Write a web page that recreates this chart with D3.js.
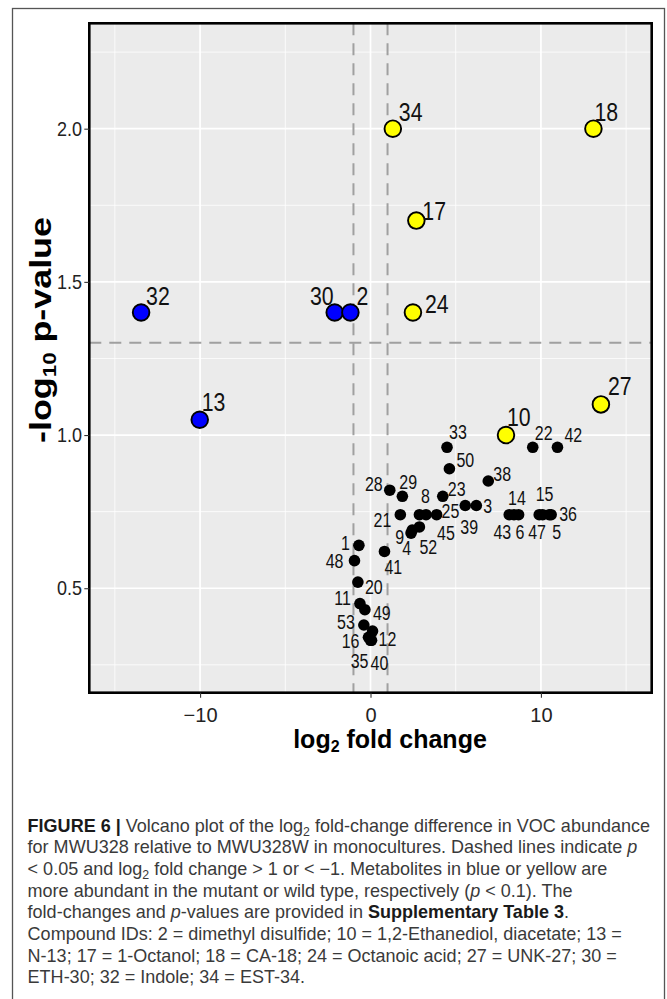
<!DOCTYPE html>
<html>
<head>
<meta charset="utf-8">
<script src="https://cdn.jsdelivr.net/npm/d3@7"></script>
<style>
body{margin:0;background:#fff;}
text{font-family:"Liberation Sans",Arial,Helvetica,sans-serif;}
</style>
</head>
<body>
<div id="plot"></div>
<script>
/* data */
var ids        = [32, 13, 30, 2, 34, 17, 24, 18, 27, 10,
                  33, 50, 38, 28, 29, 23, 21, 8, 45, 25, 39, 3, 9, 4, 52,
                  1, 48, 41, 20, 11, 49, 53, 12, 16, 35, 40,
                  22, 42, 43, 14, 6, 47, 15, 5, 36];
var foldChange = [-13.46, -10.02, -2.10, -1.18, 1.31, 2.69, 2.49, 13.08, 13.52, 7.95,
                  4.49, 4.63, 6.91, 1.13, 1.87, 4.24, 1.75, 2.87, 3.26, 3.88, 5.56, 6.21, 2.38, 2.45, 2.87,
                  -0.68, -0.94, 0.82, -0.74, -0.62, -0.33, -0.39, 0.12, -0.12, 0.0, 0.06,
                  9.52, 10.97, 8.14, 8.42, 8.69, 9.90, 10.10, 10.49, 10.60];
var negLogP    = [1.40, 1.05, 1.40, 1.40, 2.00, 1.70, 1.40, 2.00, 1.10, 1.00,
                  0.96, 0.89, 0.85, 0.82, 0.80, 0.80, 0.74, 0.74, 0.74, 0.74, 0.77, 0.77, 0.68, 0.69, 0.70,
                  0.64, 0.59, 0.62, 0.52, 0.45, 0.43, 0.38, 0.36, 0.34, 0.33, 0.33,
                  0.96, 0.96, 0.74, 0.74, 0.74, 0.74, 0.74, 0.74, 0.74];
var groups     = ['mutant','mutant','mutant','mutant','wild','wild','wild','wild','wild','wild',
                  'ns','ns','ns','ns','ns','ns','ns','ns','ns','ns','ns','ns','ns','ns','ns',
                  'ns','ns','ns','ns','ns','ns','ns','ns','ns','ns','ns',
                  'ns','ns','ns','ns','ns','ns','ns','ns','ns'];

var xTicks = [-10, 0, 10];
var xMinor = [-15, -5, 5, 15];
var yTicks = [0.5, 1.0, 1.5, 2.0];
var yMinor = [0.25, 0.75, 1.25, 1.75, 2.25];
var fcCutoffs = [-1, 1];
var pCutoff = -Math.log10(0.05);

var colors = {mutant:'#0000ff', wild:'#ffff00', ns:'#000000'};

// label nudges in px from the point (dx, dy, anchor)
var nudge = {
  34:[6,-8], 18:[1,-8], 17:[6,-1], 24:[12,0], 32:[5,-8], 30:[-1,-8,'end'], 2:[6,-8],
  13:[2,-9], 27:[7,-9], 10:[1,-9],
  33:[2,-8], 50:[7,-2], 38:[5,0], 28:[-7,1,'end'], 29:[-3,-7], 23:[5,0], 8:[1.5,-12],
  21:[-9,12,'end'], 25:[5,3], 45:[11,25], 39:[-5,28], 3:[7,7], 9:[-7,11,'end'], 4:[-10,25],
  52:[0,27], 1:[-9,5,'end'], 48:[-11,7,'end'], 41:[0,23], 20:[7,12], 11:[-9,1,'end'],
  49:[8,10], 53:[-9,4,'end'], 16:[-9,11,'end'], 12:[6,15], 35:[-2,28,'end'], 40:[-1,30],
  22:[2,-7], 42:[7,-5], 14:[-6,-10], 43:[2,24,'end'], 6:[-3,24], 15:[-7,-14], 47:[-11,24],
  5:[3,24], 36:[8,6]
};

var captionLines = [
  [["FIGURE 6 | ","b"],["Volcano plot of the log",""],["2","sub"],[" fold-change difference in VOC abundance",""]],
  [["for MWU328 relative to MWU328W in monocultures. Dashed lines indicate ",""],["p","i"]],
  [["< 0.05 and log",""],["2","sub"],[" fold change > 1 or < \u22121. Metabolites in blue or yellow are",""]],
  [["more abundant in the mutant or wild type, respectively (",""],["p","i"],[" < 0.1). The",""]],
  [["fold-changes and ",""],["p","i"],["-values are provided in ",""],["Supplementary Table 3","b"],[".",""]],
  [["Compound IDs: 2 = dimethyl disulfide; 10 = 1,2-Ethanediol, diacetate; 13 =",""]],
  [["N-13; 17 = 1-Octanol; 18 = CA-18; 24 = Octanoic acid; 27 = UNK-27; 30 =",""]],
  [["ETH-30; 32 = Indole; 34 = EST-34.",""]]
];

var data = ids.map(function(id,i){
  return {id:id, fc:foldChange[i], p:negLogP[i], g:groups[i]};
});

/* canvas */
var W = 667, H = 999;
var margin = {t:23.3, r:15.3, b:306.3, l:89.3};
var width = W - margin.l - margin.r,
    height = H - margin.t - margin.b;

var svg = d3.select('#plot').append('svg')
    .attr('width', W)
    .attr('height', H);

// outer figure frame
svg.append('rect')
    .attr('x', 12.5).attr('y', 8.5)
    .attr('width', 652).attr('height', 1010)
    .attr('fill', 'none')
    .attr('stroke', '#555').attr('stroke-width', 1.3);

var plot = svg.append('g')
    .attr('transform', 'translate(' + margin.l + ',' + margin.t + ')');

var x = d3.scaleLinear().domain([-16.5, 16.5]).range([0, width]);
var y = d3.scaleLinear().domain([0.159, 2.344]).range([height, 0]);

plot.append('rect')
    .attr('width', width).attr('height', height)
    .attr('fill', '#ebebeb');

// grid
plot.selectAll('.gx-minor').data(xMinor).enter().append('line')
    .attr('x1', x).attr('x2', x).attr('y1', 0).attr('y2', height)
    .attr('stroke', '#fff').attr('stroke-width', 0.8);
plot.selectAll('.gy-minor').data(yMinor).enter().append('line')
    .attr('y1', y).attr('y2', y).attr('x1', 0).attr('x2', width)
    .attr('stroke', '#fff').attr('stroke-width', 0.8);
plot.selectAll('.gx').data(xTicks).enter().append('line')
    .attr('x1', x).attr('x2', x).attr('y1', 0).attr('y2', height)
    .attr('stroke', '#fff').attr('stroke-width', 1.7);
plot.selectAll('.gy').data(yTicks).enter().append('line')
    .attr('y1', y).attr('y2', y).attr('x1', 0).attr('x2', width)
    .attr('stroke', '#fff').attr('stroke-width', 1.7);

// cutoff lines
plot.selectAll('.vcut').data(fcCutoffs).enter().append('line')
    .attr('x1', x).attr('x2', x).attr('y1', 0).attr('y2', height)
    .attr('stroke', '#a0a0a0').attr('stroke-width', 2)
    .attr('stroke-dasharray', '12,8');
plot.append('line')
    .attr('x1', 0).attr('x2', width).attr('y1', y(pCutoff)).attr('y2', y(pCutoff))
    .attr('stroke', '#a0a0a0').attr('stroke-width', 2)
    .attr('stroke-dasharray', '12,8');

// points
var nodes = plot.selectAll('.node')
    .data(data.filter(function(d){return d.g == 'ns';}).concat(data.filter(function(d){return d.g != 'ns';})))
    .enter().append('circle')
    .attr('class', 'node')
    .attr('cx', function(d){return x(d.fc);})
    .attr('cy', function(d){return y(d.p);})
    .attr('r', function(d){return d.g == 'ns' ? 5.8 : 8.3;})
    .attr('fill', function(d){return colors[d.g];})
    .attr('stroke', '#000')
    .attr('stroke-width', function(d){return d.g == 'ns' ? 0 : 1.9;});

// labels
plot.selectAll('.lab').data(data).enter().append('text')
    .attr('class', 'lab')
    .attr('transform', function(d){
      var n = nudge[d.id] || [5,-5];
      return 'translate(' + (x(d.fc) + n[0]) + ',' + (y(d.p) + n[1]) + ') scale(0.82,1)';
    })
    .attr('text-anchor', function(d){ var n = nudge[d.id]; return n && n[2] ? n[2] : 'start'; })
    .style('font-size', function(d){return d.g == 'ns' ? '19.5px' : '26px';})
    .attr('fill', '#111')
    .text(function(d){return d.id;});

// panel border
plot.append('rect')
    .attr('width', width).attr('height', height)
    .attr('fill', 'none')
    .attr('stroke', '#000').attr('stroke-width', 2.6);

// axes
var xAxis = plot.append('g')
    .attr('transform', 'translate(0,' + height + ')')
    .call(d3.axisBottom(x).tickValues(xTicks).tickSize(5).tickPadding(10));
var yAxis = plot.append('g')
    .call(d3.axisLeft(y).tickValues(yTicks).tickFormat(d3.format('.1f')).tickSize(5).tickPadding(3));
[xAxis, yAxis].forEach(function(a){
  a.select('.domain').remove();
  a.selectAll('line').attr('stroke', '#333').attr('stroke-width', 1.1);
  a.selectAll('text').attr('fill', '#222')
    .style('font-size', '20px')
    .style('font-family', '"Liberation Sans", Arial, sans-serif');
});
yAxis.selectAll('text').attr('transform', 'scale(0.9,1)');

// axis titles
var xt = svg.append('text')
    .attr('x', 390).attr('y', 748)
    .attr('text-anchor', 'middle')
    .style('font-size', '25px').style('font-weight', 'bold')
    .attr('fill', '#000');
xt.append('tspan').text('log');
xt.append('tspan').text('2').style('font-size', '16px').attr('dy', 4);
xt.append('tspan').text(' fold change').attr('dy', -4);

var yt = svg.append('text')
    .attr('text-anchor', 'middle')
    .style('font-size', '29px').style('font-weight', 'bold')
    .attr('fill', '#000');
yt.append('tspan').text('-log');
yt.append('tspan').text('10').style('font-size', '18px').attr('dy', 5);
yt.append('tspan').text(' p-value').attr('dy', -5);
var ytLen = yt.node().getComputedTextLength();
yt.attr('transform', 'translate(51,330) scale(1,' + (226 / ytLen) + ') rotate(-90)');

// caption
var cap = svg.append('g');
var capTexts = captionLines.map(function(line, i){
  var t = cap.append('text')
      .attr('x', 0).attr('y', 831.7 + i * 21.66)
      .style('font-size', '17.5px')
      .attr('fill', '#3a3a3a');
  line.forEach(function(seg){
    var s = t.append('tspan').text(seg[0]);
    if (seg[1] == 'b') s.style('font-weight', 'bold').attr('fill', '#1a1a1a');
    if (seg[1] == 'i') s.style('font-style', 'italic');
    if (seg[1] == 'sub') s.style('font-size', '12px').attr('dy', 4);
  });
  // reset baseline after subscripts
  t.selectAll('tspan').each(function(d, k, arr){
    if (k > 0 && d3.select(arr[k-1]).attr('dy') == '4') d3.select(this).attr('dy', -4);
  });
  return t;
});
var capScale = 623 / capTexts[0].node().getComputedTextLength();
cap.attr('transform', 'translate(27.6,0) scale(' + capScale + ',1)');
</script>
</body>
</html>
